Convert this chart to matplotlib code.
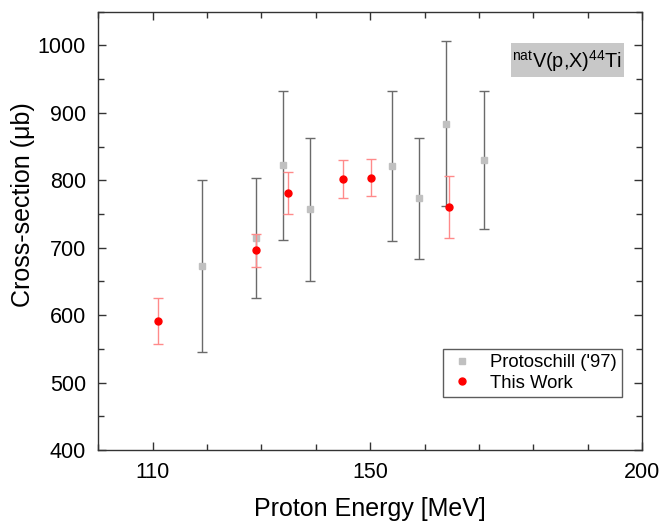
import numpy as np
import matplotlib
matplotlib.use('Agg')
import matplotlib.pyplot as plt
from matplotlib.ticker import FixedLocator, MultipleLocator
from matplotlib.lines import Line2D
from matplotlib.patches import Rectangle

plt.rcParams['font.family'] = ['Liberation Sans', 'DejaVu Sans']
plt.rcParams['mathtext.fontset'] = 'custom'
plt.rcParams['mathtext.rm'] = 'Liberation Sans'

# Protoschill ('97)
proto_energy = [119, 129, 134, 139, 154, 159, 164, 171]
proto_xs = [673, 715, 822, 757, 821, 773, 884, 830]
proto_err = [127, 89, 110, 106, 111, 90, 122, 102]

# This Work
work_energy = [110.9, 129.0, 134.9, 145.0, 150.2, 164.5]
work_xs = [591, 696, 781, 802, 804, 760]
work_err = [34, 24, 31, 28, 27, 46]

x_major = [110, 150, 200]

fig = plt.figure(figsize=(6.63, 5.21), dpi=100)
ax = fig.add_axes([0.1483, 0.1363, 0.8200, 0.8412])

ax.errorbar(proto_energy, proto_xs, yerr=proto_err, fmt='s', color='#c0c0c0',
            ecolor='#6a6a6a', elinewidth=1.0, capsize=3.8, capthick=1.0,
            markersize=4.7, zorder=2)
ax.errorbar(work_energy, work_xs, yerr=work_err, fmt='o', color='#ff0000',
            ecolor='#ff8a8a', elinewidth=1.0, capsize=3.8, capthick=1.0,
            markersize=5, zorder=3)

ax.set_xlim(100, 200)
ax.set_ylim(400, 1050)
ax.xaxis.set_major_locator(FixedLocator(x_major))
ax.xaxis.set_minor_locator(MultipleLocator(10))
ax.yaxis.set_major_locator(MultipleLocator(100))
ax.yaxis.set_minor_locator(MultipleLocator(50))
ax.tick_params(which='both', direction='in', top=True, right=True,
               labelsize=15.5, width=1.0, color='#333333')
ax.tick_params(which='major', length=6)
ax.tick_params(which='minor', length=4)
ax.tick_params(axis='x', pad=9)
ax.tick_params(axis='y', pad=9)
for s in ax.spines.values():
    s.set_linewidth(1.0)
    s.set_color('#333333')

ax.set_xlabel('Proton Energy [MeV]', fontsize=18, labelpad=10)
ax.set_ylabel('Cross-section (\u03bcb)', fontsize=18)
ax.yaxis.set_label_coords(-0.116, 0.559)

# label box for the reaction
ax.add_patch(Rectangle((0.7585, 0.8503), 0.2084, 0.079, transform=ax.transAxes,
                       facecolor='#c8c8c8', edgecolor='none', zorder=4))
ax.text(0.8628, 0.888, r'$\mathregular{^{nat}}$V(p,X)$\mathregular{^{44}}$Ti',
        transform=ax.transAxes, ha='center', va='center', fontsize=14.3, zorder=5)

handles = [
    Line2D([], [], marker='s', color='#c0c0c0', linestyle='none', markersize=4.7),
    Line2D([], [], marker='o', color='#ff0000', linestyle='none', markersize=5),
]
leg = ax.legend(handles, ["Protoschill ('97)", 'This Work'],
                loc='lower right', bbox_to_anchor=(0.963, 0.12), fontsize=13.3,
                frameon=True, fancybox=False, edgecolor='#333333',
                borderpad=0.3, handletextpad=0.8, labelspacing=0.2,
                handlelength=1.4, borderaxespad=0)
leg.get_frame().set_linewidth(1.0)

fig.savefig('out.png', dpi=100)
